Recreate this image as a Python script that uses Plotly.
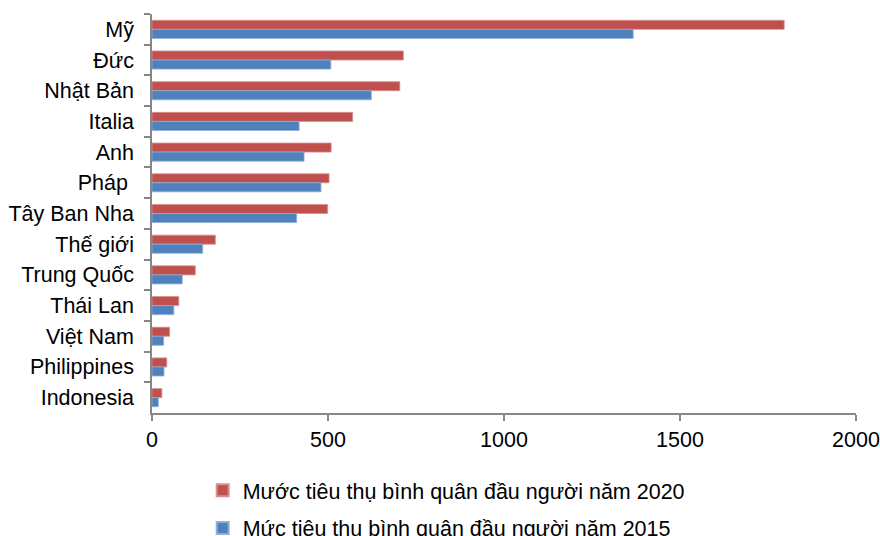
import plotly.graph_objects as go

# Per-capita consumption by country
countries = ["Mỹ", "Đức", "Nhật Bản", "Italia", "Anh", "Pháp\u00a0", "Tây Ban Nha",
             "Thế giới", "Trung Quốc", "Thái Lan", "Việt Nam", "Philippines", "Indonesia"]
values_2020 = [1796, 714, 704, 570, 509, 503, 499, 180, 123, 76, 50, 42, 28]
values_2015 = [1367, 508, 623, 418, 432, 480, 411, 144, 86, 62, 33, 34, 18]
x_ticks = [0, 500, 1000, 1500, 2000]

name_2020 = "Mước tiêu thụ bình quân đầu người năm 2020"
name_2015 = "Mức tiêu thu bình quân đầu người năm 2015"

RED = "#C0504D"
BLUE = "#4F81BD"
AXIS = "#868686"
FONT = "Liberation Sans, Arial, sans-serif"

fig = go.Figure()
fig.add_trace(go.Bar(
    y=countries, x=values_2020, orientation="h", name=name_2020,
    marker=dict(color=RED, line=dict(color="#D98F8D", width=0.8)),
    legendgroup="a",
))
fig.add_trace(go.Bar(
    y=countries, x=values_2015, orientation="h", name=name_2015,
    marker=dict(color=BLUE, line=dict(color="#8EAEDB", width=0.8)),
    legendgroup="b",
))

fig.update_layout(
    width=880, height=536,
    margin=dict(l=152, r=24, t=14, b=123, autoexpand=False),
    paper_bgcolor="white", plot_bgcolor="white",
    barmode="group", bargap=0.41, bargroupgap=0,
    font=dict(family=FONT, size=22, color="#000000"),
    showlegend=True,
    legend=dict(
        orientation="v", x=0.072, xanchor="left", y=-0.142, yanchor="top",
        font=dict(size=21.5, color="#000000"), tracegroupgap=7,
        bgcolor="rgba(0,0,0,0)", itemsizing="constant",
    ),
)

fig.update_yaxes(
    autorange="reversed", showline=True, linecolor=AXIS, linewidth=1.5,
    ticks="outside", tickson="boundaries", ticklen=6, tickcolor=AXIS, tickwidth=1.5,
    showgrid=False, zeroline=False, ticklabelstandoff=12,
    tickfont=dict(size=21.5, family=FONT, color="#000000"),
)
fig.update_xaxes(
    range=[0, 2000], tickvals=x_ticks, ticktext=[str(v) for v in x_ticks],
    showline=True, linecolor=AXIS, linewidth=1.5,
    ticks="outside", ticklen=6, tickcolor=AXIS, tickwidth=1.5,
    showgrid=False, zeroline=False,
    tickfont=dict(size=21.5, family=FONT, color="#000000"),
)

fig.write_html("out.html")
